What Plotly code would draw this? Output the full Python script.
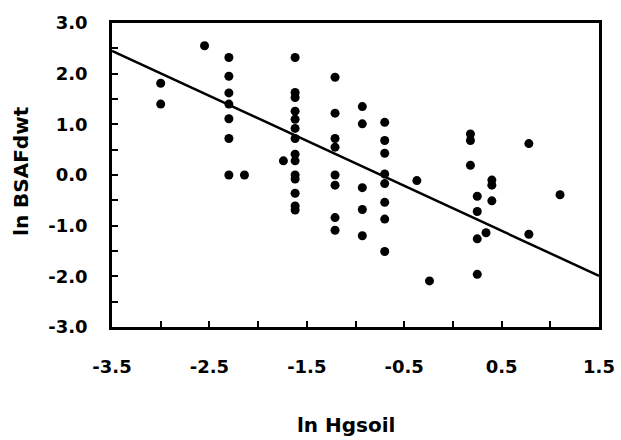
import plotly.graph_objects as go
import numpy as np

# ln Hgsoil (x) and ln BSAFdwt (y)
x_vals = [-3.0, -3.0,
          -2.55,
          -2.3, -2.3, -2.3, -2.3, -2.3, -2.3, -2.3,
          -2.14,
          -1.74,
          -1.62, -1.62, -1.62, -1.62, -1.62, -1.62, -1.62, -1.62, -1.62, -1.62, -1.62, -1.62, -1.62, -1.62,
          -1.21, -1.21, -1.21, -1.21, -1.21, -1.21, -1.21, -1.21,
          -0.93, -0.93, -0.93, -0.93, -0.93,
          -0.70, -0.70, -0.70, -0.70, -0.70, -0.70, -0.70, -0.70,
          -0.37,
          -0.24,
          0.18, 0.18, 0.18,
          0.25, 0.25, 0.25, 0.25,
          0.34,
          0.40, 0.40, 0.40,
          0.78, 0.78,
          1.10]
y_vals = [1.81, 1.40,
          2.55,
          2.32, 1.95, 1.62, 1.40, 1.11, 0.72, 0.0,
          0.0,
          0.28,
          2.32, 1.63, 1.53, 1.26, 1.10, 0.92, 0.72, 0.41, 0.28, 0.0, -0.08, -0.36, -0.61, -0.69,
          1.93, 1.22, 0.72, 0.55, 0.0, -0.20, -0.84, -1.09,
          1.35, 1.01, -0.25, -0.68, -1.20,
          1.04, 0.68, 0.43, 0.02, -0.17, -0.54, -0.87, -1.51,
          -0.11,
          -2.09,
          0.81, 0.68, 0.19,
          -0.42, -0.72, -1.26, -1.96,
          -1.14,
          -0.10, -0.20, -0.51,
          0.62, -1.17,
          -0.39]

# regression line
slope = -0.888
intercept = -0.658
x_range = [-3.5, 1.5]
y_range = [-3.0, 3.0]

# tick labels and titles
x_tickvals = [-3.5, -2.5, -1.5, -0.5, 0.5, 1.5]
x_ticktext = ["-3.5", "-2.5", "-1.5", "-0.5", "0.5", "1.5"]
y_tickvals = [-3.0, -2.0, -1.0, 0.0, 1.0, 2.0, 3.0]
y_ticktext = ["-3.0", "-2.0", "-1.0", "0.0", "1.0", "2.0", "3.0"]
x_title = "ln Hgsoil"
y_title = "ln BSAFdwt"

line_x = np.array(x_range)
line_y = slope * line_x + intercept

FONT = "DejaVu Sans"

fig = go.Figure()
fig.add_trace(go.Scatter(x=x_vals, y=y_vals, mode="markers",
                         marker=dict(color="black", size=9),
                         showlegend=False, cliponaxis=False))
fig.add_trace(go.Scatter(x=line_x, y=line_y, mode="lines",
                         line=dict(color="black", width=2.5),
                         showlegend=False))

axis_common = dict(showgrid=False, zeroline=False, showline=True, linecolor="black",
                   linewidth=2.5, mirror=True, ticks="inside", ticklen=6, tickwidth=2,
                   tickcolor="black", tickmode="array",
                   tickfont=dict(family=FONT, size=18, color="black", weight="bold"))

fig.update_xaxes(range=x_range, tickvals=x_tickvals, ticktext=x_ticktext,
                 minor=dict(dtick=0.5, tick0=-3.5, ticks="inside", ticklen=6, tickwidth=2, tickcolor="black"),
                 ticklabelstandoff=22, **axis_common)
fig.update_yaxes(range=y_range, tickvals=y_tickvals, ticktext=y_ticktext,
                 minor=dict(dtick=0.5, tick0=-3.0, ticks="inside", ticklen=6, tickwidth=2, tickcolor="black"),
                 ticklabelstandoff=18, **axis_common)

title_font = dict(family=FONT, size=20, color="black", weight="bold")
fig.add_annotation(text=x_title, xref="paper", yref="paper", x=0.480, y=-0.322,
                   xanchor="center", yanchor="middle", showarrow=False, font=title_font)
fig.add_annotation(text=y_title, xref="paper", yref="paper", x=-0.187, y=0.513,
                   xanchor="center", yanchor="middle", textangle=-90, showarrow=False, font=title_font)

fig.update_layout(width=621, height=440,
                  margin=dict(l=112, r=22, t=23, b=113, autoexpand=False),
                  plot_bgcolor="white", paper_bgcolor="white")

fig.write_html("out.html")
